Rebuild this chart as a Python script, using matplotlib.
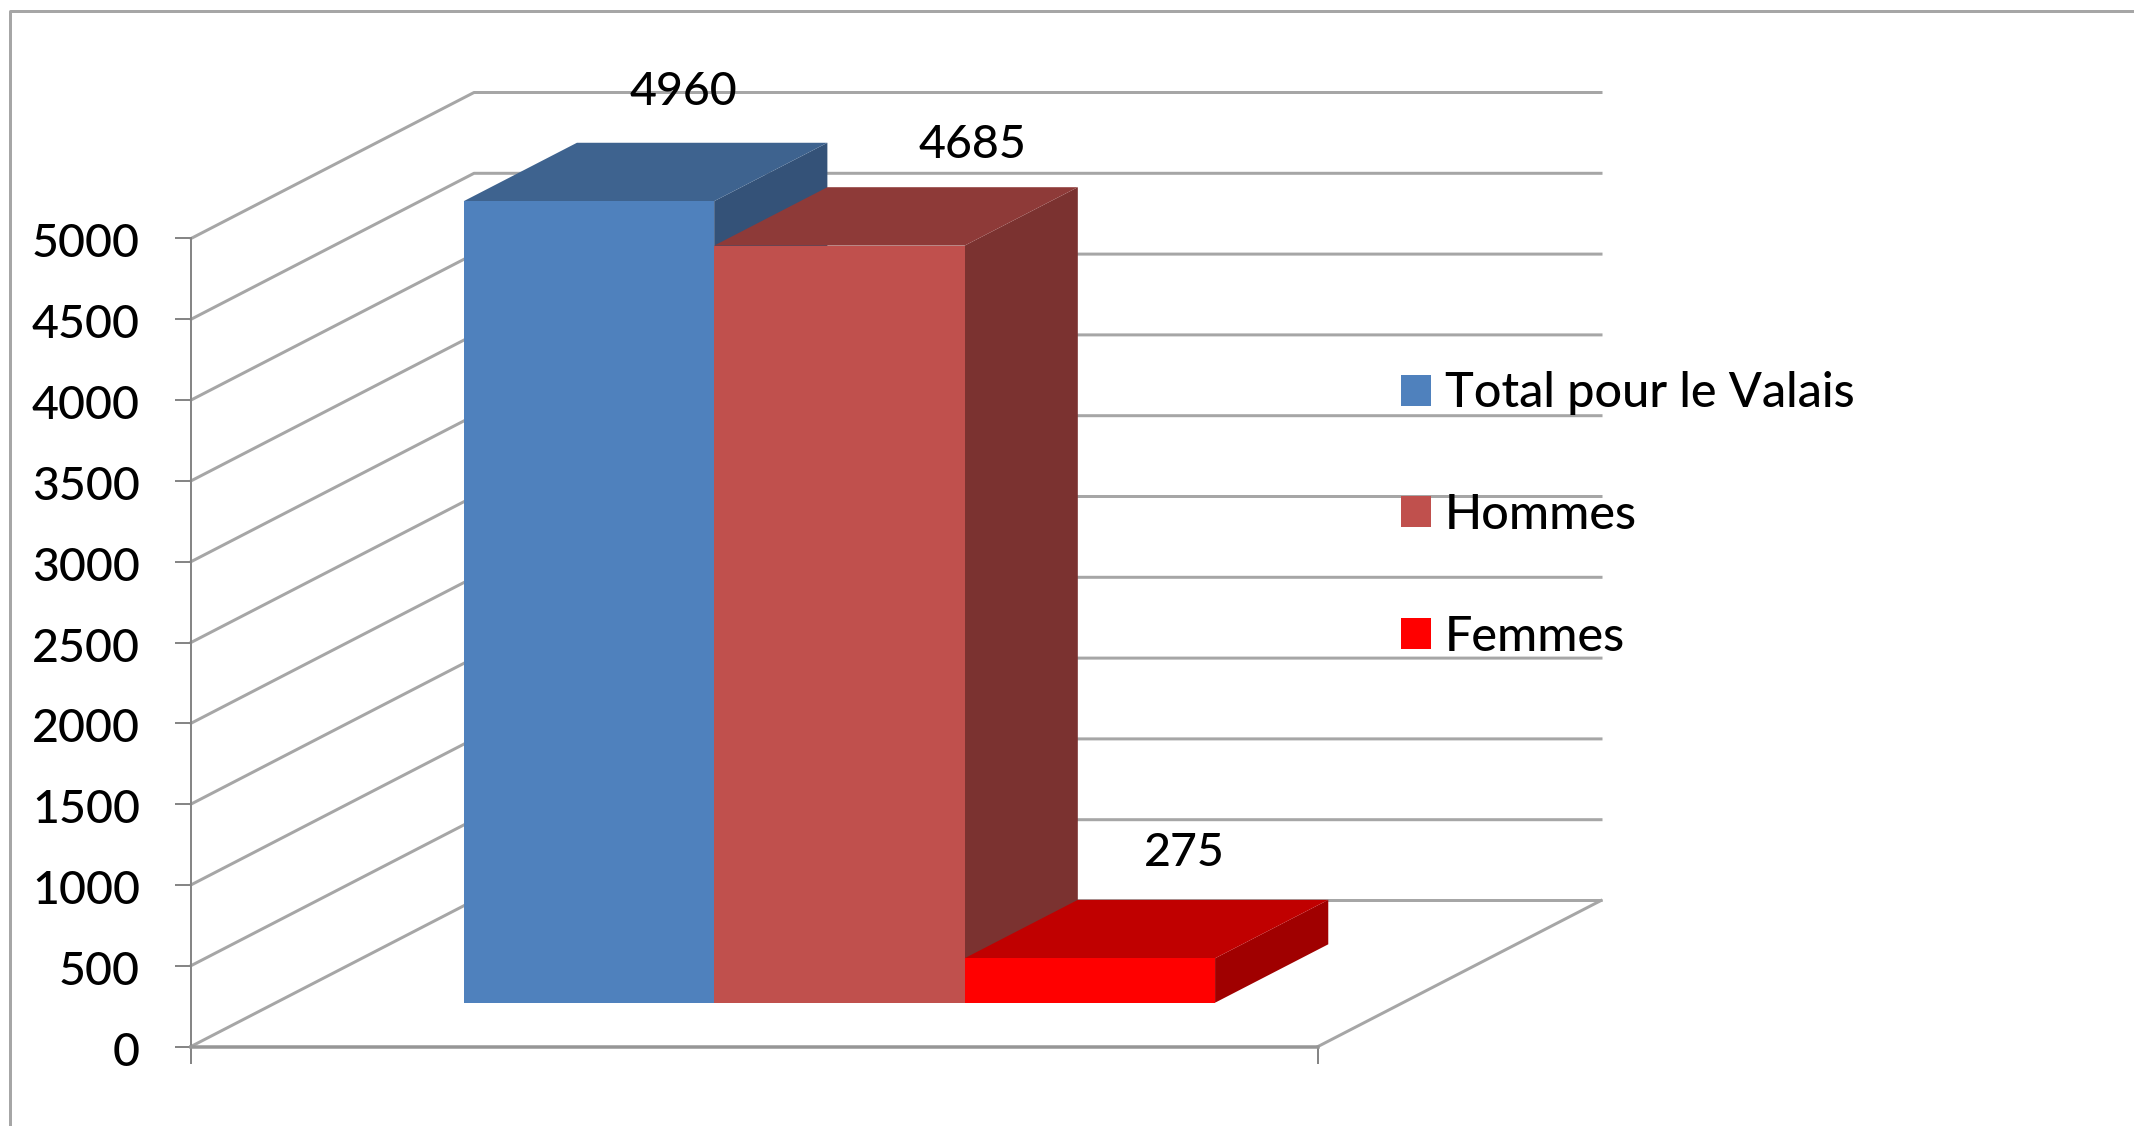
import matplotlib
matplotlib.use('Agg')
import matplotlib.pyplot as plt
from matplotlib.lines import Line2D
from matplotlib.patches import Patch
from matplotlib.transforms import ScaledTranslation

plt.rcParams['font.family'] = ['Lato', 'DejaVu Sans']

names = ['Total pour le Valais', 'Hommes', 'Femmes']
values = [4960, 4685, 275]
ticks = [0, 500, 1000, 1500, 2000, 2500, 3000, 3500, 4000, 4500, 5000]

front_colors = ['#4F81BD', '#C0504D', '#FF0000']
top_colors = ['#3E638F', '#8E3A38', '#C00000']
side_colors = ['#345278', '#7B3230', '#A00000']
# label offsets from the bar front top, in pixels
label_offsets = [(94, 109), (133, 101), (94, 105)]

W, H = 2134, 1126
GRID = '#A6A6A6'
PT = 0.72  # points per pixel at dpi 100

# depth of the floor in data units
DEPTH_X = 283 / 1127
DEPTH_Y = 146 / 808 * 5000
ymax = 5000


def project(x, v, d):
    return x + d * DEPTH_X, v + d * DEPTH_Y


def face(ax, pts, color, z):
    xs, ys = zip(*[project(*p) for p in pts])
    ax.fill(xs, ys, color=color, lw=0, zorder=z, clip_on=False)


fig = plt.figure(figsize=(W / 100, H / 100), dpi=100)
ax = fig.add_axes([191 / W, (H - 1046.5) / H, 1127 / W, 808 / H])
ax.set_xlim(0, 1)
ax.set_ylim(0, ymax)

# walls
for t in ticks:
    xs, ys = zip(project(0, t, 0), project(0, t, 1), project(1, t, 1))
    ax.plot(xs, ys, color=GRID, lw=3 * PT, zorder=1, clip_on=False)
xs, ys = zip(project(1, 0, 0), project(1, 0, 1))
ax.plot(xs, ys, color=GRID, lw=3 * PT, zorder=1, clip_on=False)

# bars, gap width 75%
bar_w = 1 / 4.5
d0, d1 = 0.3, 0.7
for i, v in enumerate(values):
    x0 = 0.75 * bar_w + i * bar_w
    x1 = x0 + bar_w
    z = 3 + i
    face(ax, [(x1, 0, d0), (x1, 0, d1), (x1, v, d1), (x1, v, d0)], side_colors[i], z)
    face(ax, [(x0, v, d0), (x1, v, d0), (x1, v, d1), (x0, v, d1)], top_colors[i], z)
    face(ax, [(x0, 0, d0), (x1, 0, d0), (x1, v, d0), (x0, v, d0)], front_colors[i], z)
    ax.annotate(str(v), project((x0 + x1) / 2, v, d0),
                xytext=(label_offsets[i][0] * PT, label_offsets[i][1] * PT),
                textcoords='offset points', ha='center', va='center',
                fontsize=33.5, fontweight='medium', color='black', zorder=10,
                annotation_clip=False)

# axes
for s in ['top', 'right']:
    ax.spines[s].set_visible(False)
ax.spines['left'].set_color('#868686')
ax.spines['left'].set_linewidth(2 * PT)
ax.spines['bottom'].set_color('#969696')
ax.spines['bottom'].set_linewidth(3.5 * PT)
ax.patch.set_alpha(0)
ax.set_yticks(ticks)
ax.set_xticks([0, 1])
ax.set_xticklabels([])
ax.tick_params(axis='y', length=16 * PT, width=2 * PT, color='#868686',
               labelsize=33.5, pad=35 * PT)
ax.tick_params(axis='x', length=17 * PT, width=2 * PT, color='#868686')
shift = ScaledTranslation(0, -2 / 100, fig.dpi_scale_trans)
for lab in ax.get_yticklabels():
    lab.set_fontweight('medium')
    lab.set_transform(lab.get_transform() + shift)

# legend
handles = [Patch(color=c, lw=0) for c in front_colors]
leg = ax.legend(handles, names, loc='center left', frameon=False,
                prop={'size': 35, 'weight': 'medium'},
                bbox_to_anchor=(1401 / W, (H - 515) / H),
                bbox_transform=fig.transFigure,
                handlelength=0.61, handleheight=0.61, handletextpad=0.29,
                labelspacing=1.6, borderpad=0, borderaxespad=0)
leg.set_zorder(10)

# outer frame of the slide
frame = Line2D([10 / W, 10 / W, 1], [0, (H - 11) / H, (H - 11) / H],
               transform=fig.transFigure, color=GRID, lw=3 * PT)
fig.add_artist(frame)

fig.savefig('out.png', dpi=100)
